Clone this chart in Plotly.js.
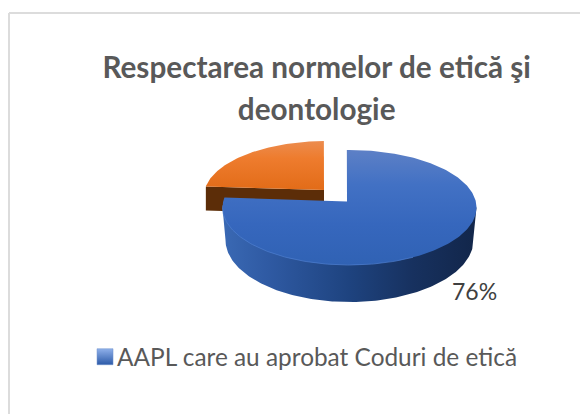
<!DOCTYPE html>
<html>
<head>
<meta charset="utf-8">
<script src="https://cdn.plot.ly/plotly-3.0.1.min.js"></script>
<style>html,body{margin:0;padding:0;background:#fff}#c{width:580px;height:414px}</style>
</head>
<body>
<div id="c"></div>
<script>
var categories = ['AAPL care au aprobat Coduri de etică', 'Altele'];
var values = [76, 24];
var percentLabel = ['76%'];
var titleLines = ['Respectarea normelor de etică şi', 'deontologie'];

// Projected (tilted) pie geometry on a pixel-sized axis
var BLUE = {apexX:347, apexY:201.5, cx:349.5, cy:207.5, rx:127, ry:57.5, botCy:240, botRx:124, botRy:62};
var ORANGE = {apexX:324, apexY:190, cx:326, cy:196, rx:122, ry:55, depth:24};
var TILT = 6.4; // degrees: perspective skew of the slice boundary

function total(){ return values.reduce(function(a,b){return a+b;},0); }
var blueEnd = values[0]/total()*360 + TILT;

function arc(cx,cy,rx,ry,a0,a1){
  var xs=[], ys=[], n=Math.max(8,Math.ceil(Math.abs(a1-a0)));
  for(var i=0;i<=n;i++){
    var t=(a0+(a1-a0)*i/n)*Math.PI/180;
    xs.push(cx+rx*Math.sin(t)); ys.push(cy-ry*Math.cos(t));
  }
  return {x:xs,y:ys};
}
function poly(x,y,extra){
  var o={type:'scatter',mode:'lines',x:x,y:y,fill:'toself',line:{width:0},hoverinfo:'skip',showlegend:false};
  for(var k in extra){o[k]=extra[k];}
  return o;
}

// orange front wall
var oA=arc(ORANGE.cx,ORANGE.cy,ORANGE.rx,ORANGE.ry,blueEnd,blueEnd);
var oWallX=[oA.x[0],ORANGE.apexX,ORANGE.apexX,oA.x[0]];
var oWallY=[oA.y[0],ORANGE.apexY,ORANGE.apexY+ORANGE.depth,oA.y[0]+ORANGE.depth];
var oWall=poly(oWallX,oWallY,{fillcolor:'#5c2d08'});

// orange top
var oTop=arc(ORANGE.cx,ORANGE.cy,ORANGE.rx,ORANGE.ry,blueEnd,359);
var oFace=poly([ORANGE.apexX].concat(oTop.x,[ORANGE.apexX]),[ORANGE.apexY].concat(oTop.y,[ORANGE.apexY]),{
  fillgradient:{type:'vertical',colorscale:[[0,'#e26c18'],[0.65,'#ee7c2e'],[1,'#ec8c4e']]}
});

// blue wall
var bBot=arc(BLUE.cx,BLUE.botCy,BLUE.botRx,BLUE.botRy,90,270);
var bWallX=[BLUE.cx+BLUE.rx].concat(bBot.x,[BLUE.cx-BLUE.rx,BLUE.cx+BLUE.rx]);
var bWallY=[BLUE.cy].concat(bBot.y,[BLUE.cy,BLUE.cy]);
var bWall=poly(bWallX,bWallY,{
  fillgradient:{type:'horizontal',colorscale:[[0,'#3a69b4'],[0.18,'#2f5aa3'],[0.5,'#1e437f'],[0.75,'#17315f'],[1,'#12264a']]}
});

// blue top
var bTop=arc(BLUE.cx,BLUE.cy,BLUE.rx,BLUE.ry,-1.2,blueEnd);
var bFace=poly([BLUE.apexX].concat(bTop.x,[BLUE.apexX]),[BLUE.apexY].concat(bTop.y,[BLUE.apexY]),{
  fillgradient:{type:'vertical',colorscale:[[0,'#3062b4'],[0.35,'#3667bd'],[0.7,'#4271c4'],[1,'#5d80c6']]}
});

// rim highlight on the front of the blue face
var rim=arc(BLUE.cx,BLUE.cy,BLUE.rx,BLUE.ry,150,272);
var bRim={type:'scatter',mode:'lines',x:rim.x,y:rim.y,line:{color:'#4f7fd0',width:1},opacity:0.7,hoverinfo:'skip',showlegend:false};

// legend entry
var legendTrace={type:'scatter',mode:'markers',x:[null],y:[null],name:categories[0],
  marker:{symbol:'square',size:16,color:'#8fb0ea',line:{width:0.5,color:'#6f90cc'},
          gradient:{type:'vertical',color:'#2c5aa8'}},hoverinfo:'skip'};

var layout={
  width:580,height:414,margin:{l:0,r:0,t:0,b:0},
  paper_bgcolor:'#ffffff',plot_bgcolor:'#ffffff',
  xaxis:{range:[0,580],visible:false,fixedrange:true},
  yaxis:{range:[414,0],visible:false,fixedrange:true},
  title:{text:titleLines.join('<br>'),x:0.546,xanchor:'center',y:0.812,yanchor:'middle',
    font:{family:'Lato, sans-serif',size:29.7,color:'#595959',weight:700}},
  showlegend:true,
  legend:{x:0.1328,y:0.138,xanchor:'left',yanchor:'middle',bgcolor:'rgba(0,0,0,0)',
    font:{family:'Lato, sans-serif',size:24.4,color:'#595959'},itemwidth:30},
  annotations:[{x:474,y:291,xref:'x',yref:'y',text:percentLabel[0],showarrow:false,
    font:{family:'Lato, sans-serif',size:23,color:'#404040'}}],
  shapes:[
    {type:'line',xref:'paper',yref:'paper',x0:9/580,x1:1,y0:1-13/414,y1:1-13/414,line:{color:'#dcdcdc',width:2},layer:'below'},
    {type:'line',xref:'paper',yref:'paper',x0:9/580,x1:9/580,y0:0,y1:1-13/414,line:{color:'#dcdcdc',width:2},layer:'below'}
  ]
};

Plotly.newPlot('c',[oWall,oFace,bWall,bFace,bRim,legendTrace],layout,{displayModeBar:false,staticPlot:true}).then(function(){
  // reference uses wider title line spacing and a tight legend swatch
  var lines=document.querySelectorAll('.gtitle tspan.line');
  if(lines.length>1){lines[1].setAttribute('dy','1.43em');}
  document.querySelectorAll('.legend .legendsymbols').forEach(function(g){g.setAttribute('transform','translate(8,0)');});
});
</script>
</body>
</html>
